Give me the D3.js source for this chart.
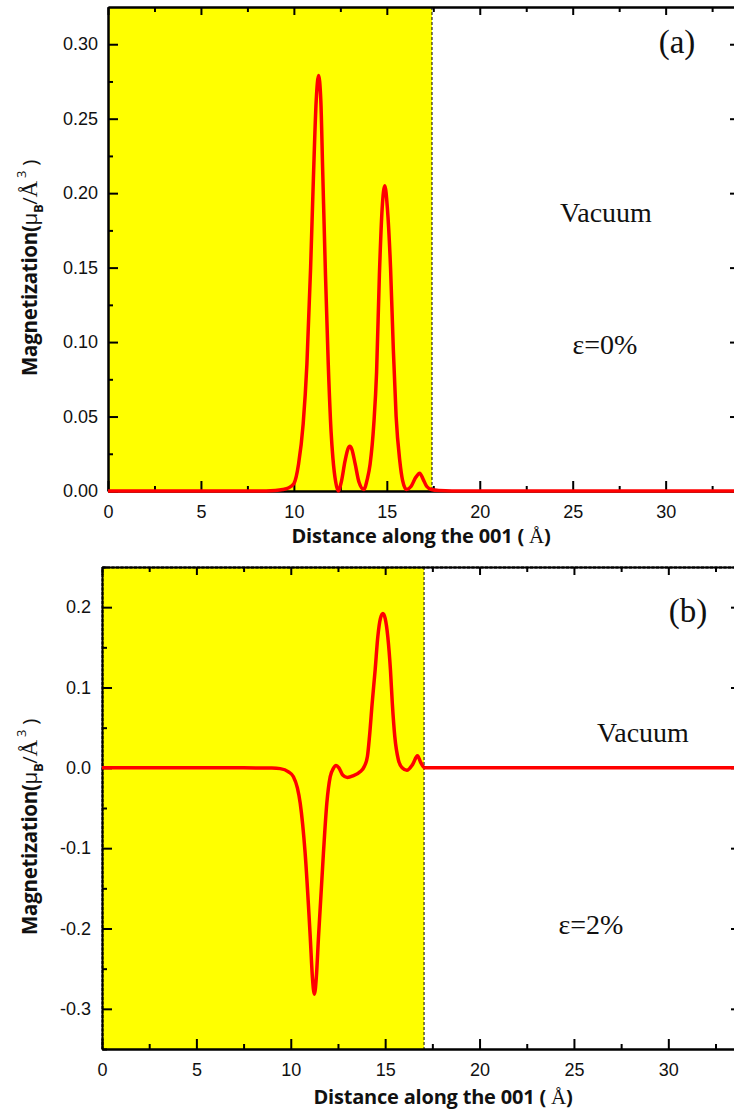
<!DOCTYPE html>
<html>
<head>
<meta charset="utf-8">
<script src="https://cdn.jsdelivr.net/npm/d3@7/dist/d3.min.js"></script>
<style>
  body { margin: 0; background: #fff; }
  svg { display: block; }
</style>
</head>
<body>
<svg class="chart" width="734" height="1114"></svg>
<script>
// panel (a), strain 0%
var distA = [0, 5, 8.5, 9.0, 9.4, 9.7, 10.0, 10.25, 10.5, 10.7, 10.9, 11.05, 11.2, 11.33, 11.45, 11.55, 11.7, 11.85, 12.0, 12.1, 12.25, 12.38,
  12.55, 12.75, 12.9, 13.01, 13.12, 13.3, 13.5, 13.76, 13.95, 14.1, 14.3, 14.45, 14.6, 14.75, 14.89, 15.03, 15.2, 15.35, 15.5, 15.7, 15.85,
  16.06, 16.3, 16.55, 16.77, 16.95, 17.15, 17.4, 17.8, 18.5, 34];
var magA = [0, 0, 0, 0.0003, 0.001, 0.002, 0.005, 0.018, 0.045, 0.085, 0.150, 0.210, 0.262, 0.279, 0.262, 0.215, 0.145, 0.085, 0.040, 0.022, 0.006, 0.000,
  0.006, 0.020, 0.028, 0.030, 0.028, 0.018, 0.006, 0.001, 0.008, 0.018, 0.045, 0.080, 0.145, 0.190, 0.205, 0.190, 0.150, 0.095, 0.050, 0.020, 0.007,
  0.001, 0.003, 0.009, 0.012, 0.008, 0.003, 0.001, 0.0003, 0, 0];

// panel (b), strain 2%
var distB = [0, 7.5, 9.0, 9.44, 9.88, 10.14, 10.35, 10.5, 10.76, 11.03, 11.15, 11.25, 11.35, 11.47, 11.73, 11.91, 12.09, 12.25, 12.4, 12.55,
  12.75, 13.0, 13.3, 13.67, 13.9, 14.06, 14.17, 14.31, 14.47, 14.61, 14.75, 14.88, 15.0, 15.14, 15.28, 15.38, 15.51, 15.7, 15.9, 16.15,
  16.45, 16.71, 16.9, 17.1, 34];
var magB = [0, 0, -0.0003, -0.001, -0.005, -0.011, -0.025, -0.044, -0.106, -0.210, -0.262, -0.282, -0.262, -0.210, -0.106, -0.044, -0.011, -0.001, 0.003, 0.000,
  -0.009, -0.012, -0.010, -0.005, 0.002, 0.014, 0.039, 0.080, 0.122, 0.163, 0.186, 0.192, 0.186, 0.163, 0.122, 0.080, 0.039, 0.010, 0.000, -0.003,
  0.004, 0.015, 0.006, 0.000, 0];

var ticksA = [0, 0.05, 0.10, 0.15, 0.20, 0.25, 0.30];
var minorA = [0.025, 0.075, 0.125, 0.175, 0.225, 0.275];
var ticksB = [-0.3, -0.2, -0.1, 0.0, 0.1, 0.2];
var minorB = [-0.35, -0.25, -0.15, -0.05, 0.05, 0.15, 0.25];
var xTicks = [0, 5, 10, 15, 20, 25, 30];
var xMinor = [2.5, 7.5, 12.5, 17.5, 22.5, 27.5, 32.5];

var svg = d3.select(".chart");

function drawPanel(p) {
  var x = d3.scaleLinear().domain([0, p.xMax]).range([p.left, p.right]);
  var y = d3.scaleLinear().domain(p.yDomain).range([p.bottom, p.top]);
  var g = svg.append("g");

  // slab region
  g.append("rect")
    .attr("x", x(0))
    .attr("y", p.top)
    .attr("width", x(p.slabEnd) - x(0))
    .attr("height", p.bottom - p.top)
    .attr("fill", "#ffff00");

  g.append("line")
    .attr("x1", x(p.slabEnd)).attr("x2", x(p.slabEnd))
    .attr("y1", p.top).attr("y2", p.bottom)
    .attr("stroke", "#000")
    .attr("stroke-width", 1)
    .attr("stroke-dasharray", "3,2");

  // axes, ticks pointing inward
  var axes = [
    { ax: d3.axisBottom(x).tickValues(xTicks).tickFormat(d3.format("d")), pos: "translate(0," + p.bottom + ")", size: -10, pad: 14 },
    { ax: d3.axisBottom(x).tickValues(xMinor).tickFormat(""), pos: "translate(0," + p.bottom + ")", size: -5 },
    { ax: d3.axisTop(x).tickValues(xTicks).tickFormat(""), pos: "translate(0," + p.top + ")", size: -8, dash: p.dashed },
    { ax: d3.axisTop(x).tickValues(xMinor).tickFormat(""), pos: "translate(0," + p.top + ")", size: -5 },
    { ax: d3.axisLeft(y).tickValues(p.ticks).tickFormat(p.fmt), pos: "translate(" + p.left + ",0)", size: -10, pad: p.yPad, dash: p.dashed },
    { ax: d3.axisLeft(y).tickValues(p.minor).tickFormat(""), pos: "translate(" + p.left + ",0)", size: -5 },
    { ax: d3.axisRight(y).tickValues(p.ticks).tickFormat(""), pos: "translate(" + p.right + ",0)", size: -10 },
    { ax: d3.axisRight(y).tickValues(p.minor).tickFormat(""), pos: "translate(" + p.right + ",0)", size: -5 }
  ];

  axes.forEach(function(a) {
    var ag = g.append("g")
      .attr("transform", a.pos)
      .call(a.ax.tickSize(a.size).tickSizeOuter(0).tickPadding(a.pad || 3));
    ag.select(".domain")
      .attr("stroke", "#000")
      .attr("stroke-width", 2)
      .attr("stroke-dasharray", a.dash ? "3,1.5" : null);
    ag.selectAll(".tick line").attr("stroke", "#000").attr("stroke-width", 2);
    ag.selectAll(".tick text")
      .attr("font-family", "'Liberation Sans', Arial, sans-serif")
      .attr("font-size", 18)
      .attr("fill", "#111");
  });

  // magnetization curve
  var line = d3.line()
    .x(function(d) { return x(d[0]); })
    .y(function(d) { return y(d[1]); })
    .curve(d3.curveMonotoneX);

  g.append("path")
    .datum(d3.zip(p.dist, p.mag))
    .attr("d", line)
    .attr("fill", "none")
    .attr("stroke", "#ff0000")
    .attr("stroke-width", 3.5)
    .attr("stroke-linejoin", "round");

  // x title
  var xt = g.append("text")
    .attr("x", p.xTitleX)
    .attr("y", p.xTitleY)
    .attr("text-anchor", "middle")
    .attr("font-family", "'Open Sans', sans-serif")
    .attr("font-weight", "bold")
    .attr("font-size", 20)
    .attr("letter-spacing", -0.2)
    .attr("fill", "#111");
  xt.append("tspan").text("Distance along the 001 ( ");
  xt.append("tspan").attr("font-family", "'Liberation Serif', serif").attr("font-weight", "normal").attr("font-size", 21).text("Å");
  xt.append("tspan").text(")");

  // y title
  var yt = g.append("text")
    .attr("transform", "translate(" + p.yTitleX + "," + p.yTitleY + ") rotate(-90)")
    .attr("text-anchor", "middle")
    .attr("font-family", "'Open Sans', sans-serif")
    .attr("font-weight", "bold")
    .attr("font-size", 20.5)
    .attr("letter-spacing", -0.3)
    .attr("fill", "#111");
  yt.append("tspan").text("Magnetization(");
  yt.append("tspan").attr("font-weight", "normal").text("μ");
  yt.append("tspan").attr("font-size", 13).attr("dy", 6).text("B");
  yt.append("tspan").attr("font-weight", "normal").attr("dy", -6).text("/");
  yt.append("tspan").attr("font-family", "'Liberation Serif', serif").attr("font-weight", "normal").attr("font-size", 23).text("Å");
  yt.append("tspan").attr("font-size", 13).attr("font-weight", "normal").attr("dy", -11).text(" 3");
  yt.append("tspan").attr("font-weight", "normal").attr("dy", 11).text(" )");

  // annotations
  p.notes.forEach(function(n) {
    g.append("text")
      .attr("x", n.x)
      .attr("y", n.y)
      .attr("text-anchor", "middle")
      .attr("font-family", "'Liberation Serif', 'Times New Roman', serif")
      .attr("font-size", n.size)
      .attr("fill", "#111")
      .text(n.t);
  });
}

drawPanel({
  left: 108, right: 740, top: 7, bottom: 491,
  xMax: 34, yDomain: [0, 0.325],
  ticks: ticksA, minor: minorA, fmt: d3.format(".2f"), yPad: 10,
  dist: distA, mag: magA, slabEnd: 17.43, dashed: false,
  xTitleX: 421, xTitleY: 543, yTitleX: 37, yTitleY: 268,
  notes: [
    { t: "(a)", x: 677, y: 53, size: 33 },
    { t: "Vacuum", x: 606, y: 222, size: 28 },
    { t: "ε=0%", x: 605, y: 354, size: 28 }
  ]
});

drawPanel({
  left: 102, right: 741, top: 567, bottom: 1049,
  xMax: 33.85, yDomain: [-0.35, 0.25],
  ticks: ticksB, minor: minorB, fmt: function(d) { return d.toFixed(1); }, yPad: 11,
  dist: distB, mag: magB, slabEnd: 17.06, dashed: true,
  xTitleX: 443, xTitleY: 1104, yTitleX: 37, yTitleY: 827,
  notes: [
    { t: "(b)", x: 688, y: 622, size: 33 },
    { t: "Vacuum", x: 643, y: 742, size: 28 },
    { t: "ε=2%", x: 591, y: 934, size: 28 }
  ]
});
</script>
</body>
</html>
